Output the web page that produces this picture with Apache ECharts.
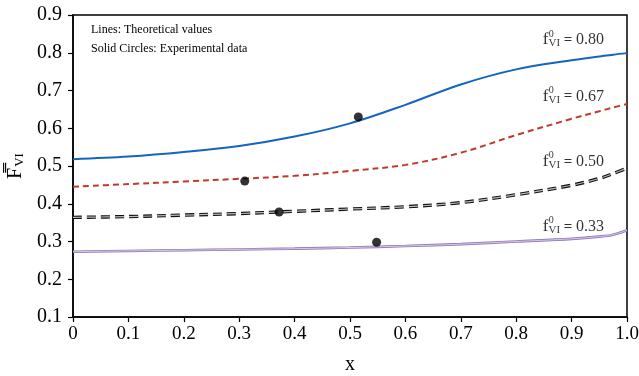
<!DOCTYPE html>
<html><head><meta charset="utf-8">
<script src="https://cdn.jsdelivr.net/npm/echarts@6/dist/echarts.min.js"></script>
<style>html,body{margin:0;padding:0;background:#fff}#c{width:639px;height:376px}</style>
</head><body><div id="c"></div>
<script>
const xs = [0, 0.1, 0.2, 0.3, 0.4, 0.5, 0.6, 0.7, 0.8, 0.9, 0.95, 0.975, 1.0];
const f080 = [0.518, 0.525, 0.537, 0.553, 0.578, 0.613, 0.662, 0.716, 0.756, 0.780, 0.790, 0.795, 0.799];
const f067 = [0.445, 0.452, 0.459, 0.466, 0.474, 0.487, 0.503, 0.535, 0.582, 0.625, 0.645, 0.655, 0.664];
const f050 = [0.364, 0.366, 0.370, 0.374, 0.380, 0.386, 0.392, 0.403, 0.424, 0.449, 0.467, 0.480, 0.494];
const f033 = [0.273, 0.275, 0.277, 0.279, 0.281, 0.284, 0.288, 0.293, 0.300, 0.307, 0.313, 0.318, 0.330];
const expX = [0.515, 0.31, 0.372, 0.548];
const expY = [0.63, 0.46, 0.378, 0.298];
const labelValues = ['0.80', '0.67', '0.50', '0.33'];
const noteLines = ['Lines: Theoretical values', 'Solid Circles: Experimental data'];

const pair = (ys) => xs.map((x, i) => [x, ys[i]]);
const serif = '"Liberation Serif", "DejaVu Serif", serif';

const chart = echarts.init(document.getElementById('c'));
const labelAnchorY = [0.834, 0.684, 0.511, 0.339];
const labelAnchorX = 0.848;

const base = {type: 'line', smooth: 0.35, symbol: 'none', silent: true, animation: false};
chart.setOption({
  animation: false,
  grid: {left: 73, right: 12, top: 15, bottom: 59, containLabel: false, outerBoundsMode: 'none',
    show: true, borderColor: '#000', borderWidth: 1.5, backgroundColor: 'transparent'},
  xAxis: {
    type: 'value', min: 0, max: 1, interval: 0.1,
    name: 'x', nameLocation: 'middle', nameGap: 38,
    nameTextStyle: {fontFamily: serif, fontSize: 20, color: '#000'},
    axisLine: {show: true, lineStyle: {color: '#000', width: 1.5}},
    axisTick: {show: true, inside: false, length: 5, lineStyle: {color: '#000', width: 1.2}},
    axisLabel: {fontFamily: serif, fontSize: 19, color: '#000', margin: 8,
      formatter: v => (Math.abs(v) < 1e-9 ? '0' : v.toFixed(1))},
    splitLine: {show: false}
  },
  yAxis: {
    type: 'value', min: 0.1, max: 0.9, interval: 0.1,
    name: '{f|F̿}{s|VI}', nameLocation: 'middle', nameGap: 46, nameRotate: 90,
    nameTextStyle: {fontFamily: serif, color: '#000',
      rich: {f: {fontFamily: serif, fontSize: 20, color: '#000'}, s: {fontFamily: serif, fontSize: 13, color: '#000', padding: [8, 0, 0, 1]}}},
    axisLine: {show: true, lineStyle: {color: '#000', width: 1.5}},
    axisTick: {show: true, inside: false, length: 5, lineStyle: {color: '#000', width: 1.2}},
    axisLabel: {fontFamily: serif, fontSize: 20, color: '#000', margin: 11,
      formatter: v => v.toFixed(1)},
    splitLine: {show: false}
  },
  series: [
    Object.assign({}, base, {data: pair(f080), lineStyle: {color: '#1565c0', width: 2}}),
    Object.assign({}, base, {data: pair(f067), lineStyle: {color: '#c0392b', width: 2, type: [6, 4]}}),
    Object.assign({}, base, {data: pair(f050), lineStyle: {color: '#111', width: 3.4, type: [9, 5]}}),
    Object.assign({}, base, {data: pair(f050), lineStyle: {color: '#bbb', width: 1.2, type: [9, 5]}}),
    Object.assign({}, base, {data: pair(f033), lineStyle: {color: '#8f78b8', width: 2.6}}),
    Object.assign({}, base, {data: pair(f033), lineStyle: {color: '#e6def0', width: 0.8}}),
    {type: 'scatter', data: expX.map((x, i) => [x, expY[i]]), symbol: 'circle', symbolSize: 9,
      itemStyle: {color: '#000'}, silent: true, z: 5},
    {type: 'scatter', silent: true, symbolSize: 0, z: 6,
      data: labelValues.map((v, i) => ({value: [labelAnchorX, labelAnchorY[i]], name: v})),
      label: {show: true, position: 'right', distance: 0, color: '#000',
        formatter: p => '{f|f}{s|VI}{e| = }{v|' + p.name + '}',
        rich: {
          f: {fontFamily: serif, fontSize: 17, color: '#000'},
          s: {fontFamily: serif, fontSize: 11, color: '#000', padding: [7, 0, 0, 0]},
          e: {fontFamily: serif, fontSize: 15, fontWeight: 'bold', color: '#000'},
          v: {fontFamily: serif, fontSize: 16, color: '#000'}
        }}},
    {type: 'scatter', silent: true, symbolSize: 0, z: 6,
      data: labelValues.map((v, i) => [labelAnchorX, labelAnchorY[i]]),
      label: {show: true, position: 'right', distance: 0, offset: [6, -6], color: '#000',
        formatter: '0', fontFamily: serif, fontSize: 10}}
  ],
  graphic: noteLines.map((t, i) => ({type: 'text', left: 91, top: 24 + i * 19,
    style: {text: t, font: '12px ' + serif, fill: '#000'}}))
});
</script></body></html>
